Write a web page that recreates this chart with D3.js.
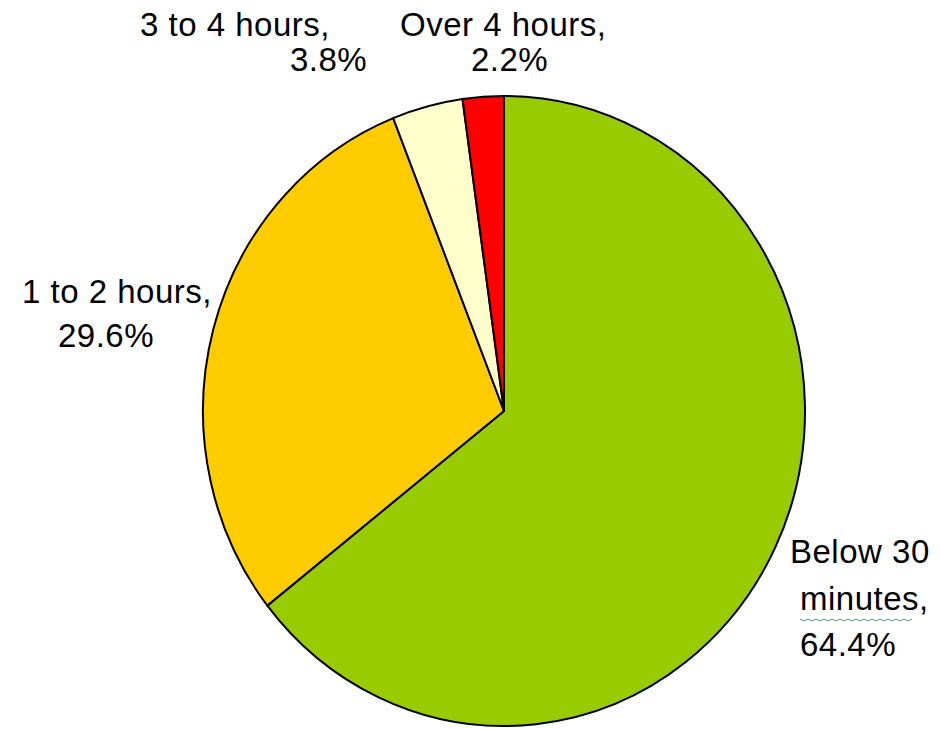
<!DOCTYPE html>
<html>
<head>
<meta charset="utf-8">
<script src="https://cdn.jsdelivr.net/npm/d3@7"></script>
<style>
  body { margin: 0; background: #fff; }
  text { font-family: "Liberation Sans", Arial, sans-serif; fill: #000; }
</style>
</head>
<body>
<div id="chart"></div>
<script>
const categories = ["Below 30 minutes", "1 to 2 hours", "3 to 4 hours", "Over 4 hours"];
const values = [64.4, 29.6, 3.8, 2.2];
const colors = ["#99cc00", "#ffcc00", "#ffffcc", "#ff0000"];

// label lines and where each line starts (x, baseline y)
const labelLines = {
  "Below 30 minutes": [["Below 30", 790, 563], ["minutes,", 800, 610], ["64.4%", 800, 656]],
  "1 to 2 hours": [["1 to 2 hours,", 22, 303], ["29.6%", 58, 347]],
  "3 to 4 hours": [["3 to 4 hours,", 140, 36], ["3.8%", 290, 71]],
  "Over 4 hours": [["Over 4 hours,", 400, 36], ["2.2%", 471, 71]]
};

const W = 941, H = 729;
const cx = 504, cy = 411, R = 301, yStretch = 315 / 301;

const svg = d3.select("#chart")
  .append("svg")
  .attr("width", W)
  .attr("height", H);

const data = categories.map((c, i) => ({ name: c, value: values[i], color: colors[i] }));

const pie = d3.pie().sort(null).value(d => d.value);
const arc = d3.arc().innerRadius(0).outerRadius(R);

const g = svg.append("g")
  .attr("transform", `translate(${cx},${cy}) scale(1,${yStretch})`);

g.selectAll("path")
  .data(pie(data))
  .join("path")
  .attr("d", arc)
  .attr("fill", d => d.data.color)
  .attr("stroke", "#000")
  .attr("stroke-width", 2)
  .attr("vector-effect", "non-scaling-stroke");

// labels
data.forEach(d => {
  labelLines[d.name].forEach(([txt, x, y]) => {
    svg.append("text")
      .attr("x", x).attr("y", y)
      .attr("font-size", 33)
      .attr("letter-spacing", 0.5)
      .text(txt);
  });
});

// spell-check squiggle under "minutes,"
const sq = d3.range(0, 116, 4).map((x, i) => [800 + x, 619 + (i % 2 ? 2 : 0)]);
svg.append("path")
  .attr("d", d3.line()(sq))
  .attr("fill", "none")
  .attr("stroke", "#4a9a6a")
  .attr("stroke-width", 1);
</script>
</body>
</html>
